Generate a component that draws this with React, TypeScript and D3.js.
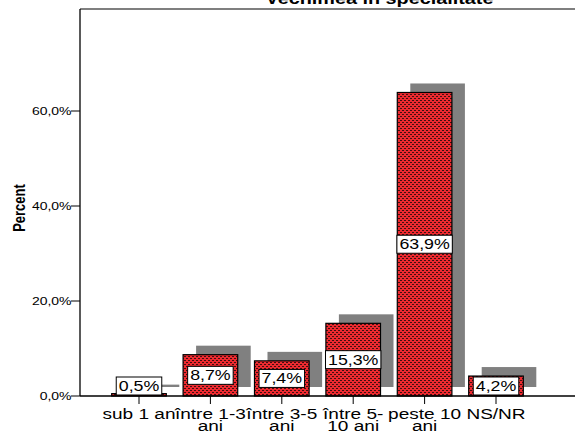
import React from "react";
import * as d3 from "d3";

const categories = ["sub 1 an", "între 1-3 ani", "între 3-5 ani", "între 5-10 ani", "peste 10 ani", "NS/NR"];
const categoryLines = [["sub 1 an"], ["între 1-3", "ani"], ["între 3-5", "ani"], ["între 5-", "10 ani"], ["peste 10", "ani"], ["NS/NR"]];
const values = [0.5, 8.7, 7.4, 15.3, 63.9, 4.2];
const valueLabels = ["0,5%", "8,7%", "7,4%", "15,3%", "63,9%", "4,2%"];
const yTicks = [0, 20, 40, 60];
const yTickLabels = ["0,0%", "20,0%", "40,0%", "60,0%"];
const title = "Vechimea în specialitate";
const yTitle = "Percent";

const W = 575;
const H = 431;
const SX = 1.27;
const FONT = "'Liberation Sans', Arial, sans-serif";

function measure(text: string, font: string): number {
  const c = document.createElement("canvas");
  const ctx = c.getContext("2d");
  if (!ctx) return text.length * 8;
  ctx.font = font;
  return ctx.measureText(text).width;
}

export default function App() {
  const x = d3.scaleBand<string>().domain(categories).range([103.3, 531.7]).padding(0);
  const y = d3.scaleLinear().domain([0, 60]).range([396, 111]);
  const barW = x.bandwidth() * 0.765;
  const shDx = 13;
  const shDy = -9;
  const axisLeft = 80;
  const y0 = y(0);

  return (
    <svg width={W} height={H} style={{ position: "absolute", left: 0, top: 0, background: "#fff" }}>
      <defs>
        <pattern id="redpat" width={4} height={4} patternUnits="userSpaceOnUse">
          <rect x={0} y={0} width={4} height={4} fill="#ee2a30" />
          <rect x={0} y={0} width={2} height={1} fill="#401010" />
          <rect x={2} y={2} width={2} height={1} fill="#401010" />
        </pattern>
      </defs>
      {/* frame top */}
      <line x1={axisLeft} x2={W} y1={9} y2={9} stroke="#555" strokeWidth={1.5} />
      {/* title */}
      <text transform={`translate(379.5,4) scale(${SX},1)`} textAnchor="middle" fontFamily={FONT} fontWeight="bold" fontSize={15.6} fill="#000">{title}</text>
      {/* shadows */}
      {categories.map((c, i) => {
        const cx = (x(c) as number) + x.bandwidth() / 2;
        return (
          <rect key={"s" + i} x={cx - barW / 2 + shDx} y={y(values[i]) + shDy} width={barW} height={y0 - y(values[i])} fill="#808080" />
        );
      })}
      {/* bars */}
      {categories.map((c, i) => {
        const cx = (x(c) as number) + x.bandwidth() / 2;
        return (
          <rect key={"b" + i} x={cx - barW / 2} y={y(values[i])} width={barW} height={y0 - y(values[i])} fill="url(#redpat)" stroke="#000" strokeWidth={1.2} />
        );
      })}
      {/* value labels */}
      {categories.map((c, i) => {
        const cx = (x(c) as number) + x.bandwidth() / 2;
        const mid = Math.min((y(values[i]) + y0) / 2, y0 - 10);
        const tw = measure(valueLabels[i], `14px ${FONT}`) * SX;
        const bw = tw + 5;
        const bh = 18;
        return (
          <g key={"l" + i}>
            <rect x={cx - bw / 2} y={mid - bh / 2} width={bw} height={bh} fill="#fff" stroke="#000" strokeWidth={1} />
            <text transform={`translate(${cx},${mid + 5}) scale(${SX},1)`} textAnchor="middle" fontFamily={FONT} fontSize={14} fill="#000">{valueLabels[i]}</text>
          </g>
        );
      })}
      {/* axes */}
      <line x1={axisLeft} x2={axisLeft} y1={9} y2={y0} stroke="#000" strokeWidth={1.3} />
      <line x1={axisLeft} x2={W} y1={y0} y2={y0} stroke="#000" strokeWidth={1.3} />
      {yTicks.map((t, i) => (
        <g key={"yt" + i}>
          <line x1={axisLeft - 9} x2={axisLeft} y1={y(t)} y2={y(t)} stroke="#000" strokeWidth={1} />
          <text transform={`translate(${axisLeft - 8.5},${y(t) + 3.8}) scale(${SX},1)`} textAnchor="end" fontFamily={FONT} fontSize={11} fill="#000">{yTickLabels[i]}</text>
        </g>
      ))}
      {categories.map((c, i) => {
        const cx = (x(c) as number) + x.bandwidth() / 2;
        return (
          <g key={"xt" + i}>
            <line x1={cx} x2={cx} y1={y0} y2={y0 + 8} stroke="#000" strokeWidth={1} />
            {categoryLines[i].map((ln, j) => (
              <text key={j} transform={`translate(${cx},${419 + j * 12}) scale(${SX},1)`} textAnchor="middle" fontFamily={FONT} fontSize={15} fill="#000">{ln}</text>
            ))}
          </g>
        );
      })}
      <text transform={`translate(25,208) scale(${SX},1) rotate(-90)`} textAnchor="middle" fontFamily={FONT} fontWeight="bold" fontSize={13} fill="#000">{yTitle}</text>
    </svg>
  );
}
